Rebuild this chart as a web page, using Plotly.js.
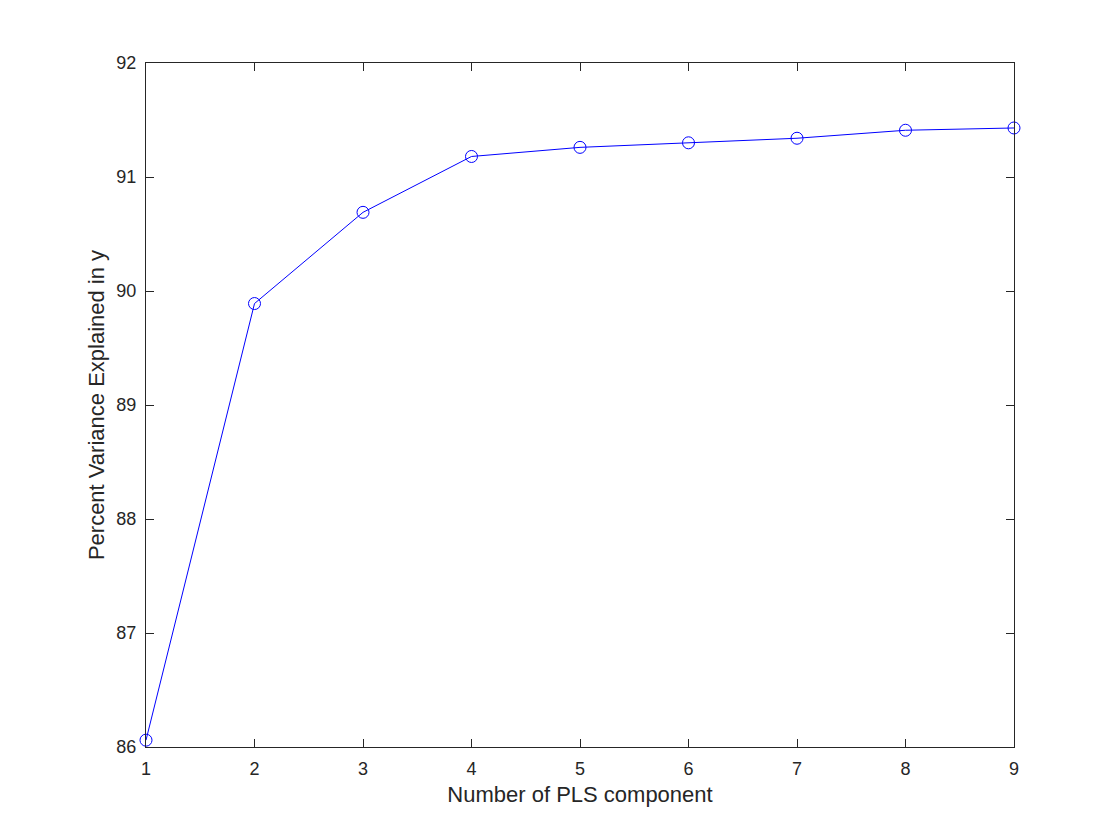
<!DOCTYPE html>
<html>
<head>
<meta charset="utf-8">
<script src="https://cdn.plot.ly/plotly-3.0.1.min.js"></script>
<style>html,body{margin:0;padding:0;background:#fff;}#chart{width:1120px;height:840px;}</style>
</head>
<body>
<div id="chart"></div>
<script>
const components = [1, 2, 3, 4, 5, 6, 7, 8, 9];
const pctVarY = [86.06, 89.89, 90.69, 91.18, 91.26, 91.30, 91.34, 91.41, 91.43];
const xTicks = [1, 2, 3, 4, 5, 6, 7, 8, 9];
const yTicks = [86, 87, 88, 89, 90, 91, 92];

const font = {family: 'Liberation Sans, Arial, Helvetica, sans-serif', color: '#262626'};

const trace = {
  x: components,
  y: pctVarY,
  type: 'scatter',
  mode: 'lines+markers',
  line: {color: '#0000ff', width: 1},
  marker: {symbol: 'circle-open', size: 12, color: '#0000ff', line: {width: 1, color: '#0000ff'}},
  cliponaxis: false,
  hoverinfo: 'x+y'
};

const axisCommon = {
  showgrid: false,
  zeroline: false,
  showline: true,
  mirror: 'allticks',
  linecolor: '#262626',
  linewidth: 1,
  ticks: 'inside',
  ticklen: 8,
  tickwidth: 1,
  tickcolor: '#262626',
  tickfont: {family: font.family, size: 18, color: '#262626'}
};

const layout = {
  width: 1120,
  height: 840,
  margin: {l: 146, r: 106, t: 63, b: 93},
  paper_bgcolor: '#ffffff',
  plot_bgcolor: '#ffffff',
  showlegend: false,
  font: font,
  xaxis: Object.assign({}, axisCommon, {
    range: [1, 9],
    tickmode: 'array',
    tickvals: xTicks,
    ticktext: xTicks.map(String),
    ticklabelstandoff: 5,
    title: {text: 'Number of PLS component', font: {family: font.family, size: 22, color: '#262626'}, standoff: 9}
  }),
  yaxis: Object.assign({}, axisCommon, {
    range: [86, 92],
    tickmode: 'array',
    tickvals: yTicks,
    ticktext: yTicks.map(String),
    ticklabelstandoff: 5,
    title: {text: 'Percent Variance Explained in y', font: {family: font.family, size: 22, color: '#262626'}, standoff: 5}
  })
};

Plotly.newPlot('chart', [trace], layout, {displayModeBar: false, staticPlot: true});
</script>
</body>
</html>
